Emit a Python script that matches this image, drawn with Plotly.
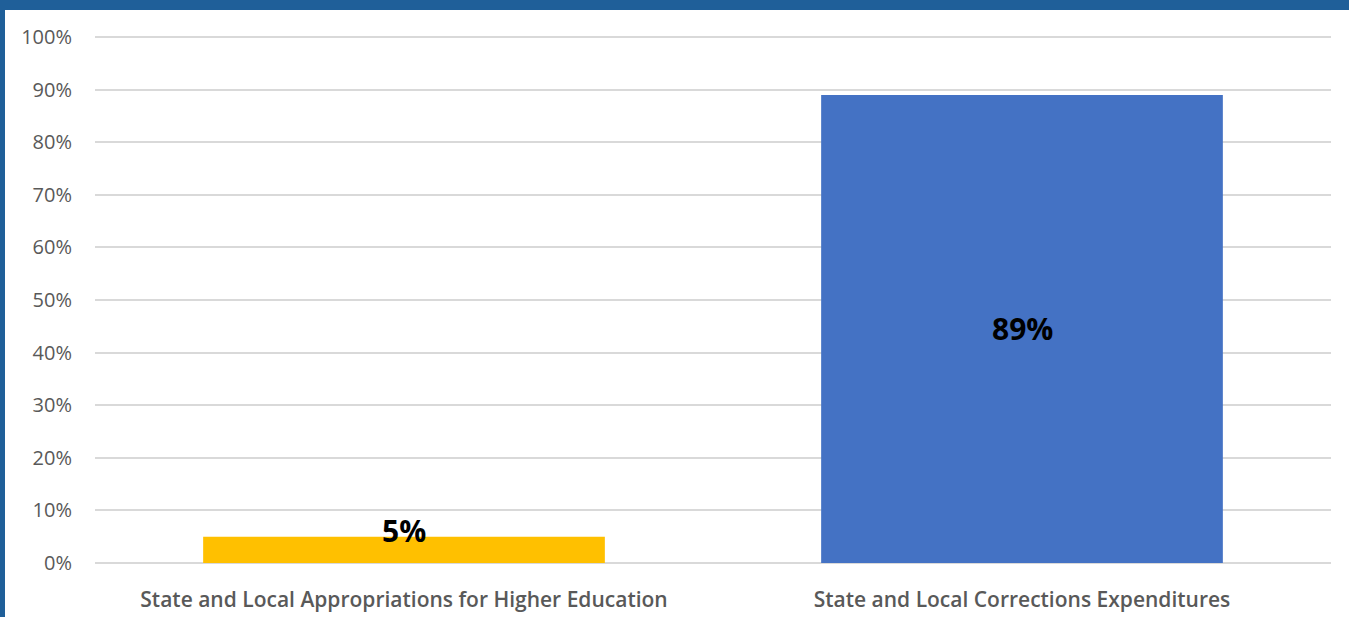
import plotly.graph_objects as go

categories = ["State and Local Appropriations for Higher Education",
              "State and Local Corrections Expenditures"]
values = [5, 89]
bar_colors = ["#FFC000", "#4472C4"]
tick_vals = [0, 10, 20, 30, 40, 50, 60, 70, 80, 90, 100]
tick_text = [f"{v}%" for v in tick_vals]

W, H = 1349, 617
ml, mr, mt, mb = 95, 18, 35, 54
pw, ph = W - ml - mr, H - mt - mb

fig = go.Figure(go.Bar(
    x=categories, y=values, marker=dict(color=bar_colors, line=dict(width=0)),
    width=0.65, hoverinfo="skip"))

lab_font = dict(family="Open Sans", size=30, color="#000000", weight="bold")
for c, v in zip(categories, values):
    if v > 20:
        fig.add_annotation(x=c, y=v / 2, text=f"{v}%", showarrow=False,
                           font=lab_font, yshift=0)
    else:
        fig.add_annotation(x=c, y=v, text=f"{v}%", showarrow=False,
                           font=lab_font, yshift=6)

def px_x(x):
    return (x - ml) / pw

def px_y(y):
    return (H - mb - y) / ph

fig.add_shape(type="rect", xref="paper", yref="paper",
              x0=px_x(-5), x1=px_x(W + 5), y0=px_y(10), y1=px_y(-5),
              fillcolor="#1F5F99", line=dict(width=0), layer="above")
fig.add_shape(type="rect", xref="paper", yref="paper",
              x0=px_x(-5), x1=px_x(5), y0=px_y(H + 5), y1=px_y(-5),
              fillcolor="#1F5F99", line=dict(width=0), layer="above")

fig.update_layout(
    width=W, height=H,
    margin=dict(l=ml, r=mr, t=mt, b=mb, pad=0, autoexpand=False),
    paper_bgcolor="white", plot_bgcolor="white",
    showlegend=False, bargap=0.35,
    font=dict(family="Open Sans", color="#595959"),
    xaxis=dict(showgrid=False, showline=False, ticks="", automargin=False,
               tickfont=dict(size=21, color="#595959", family="Open Sans", weight=600),
               ticklabelstandoff=22, fixedrange=True),
    yaxis=dict(range=[0, 100.4], tickvals=tick_vals, ticktext=tick_text,
               showgrid=True, gridcolor="#D9D9D9", gridwidth=2, automargin=False,
               zeroline=True, zerolinecolor="#D9D9D9", zerolinewidth=2,
               tickfont=dict(size=20, color="#595959", family="Open Sans"),
               ticks="", ticklabelstandoff=22, fixedrange=True),
)

fig.write_html("out.html", config={"displayModeBar": False})
